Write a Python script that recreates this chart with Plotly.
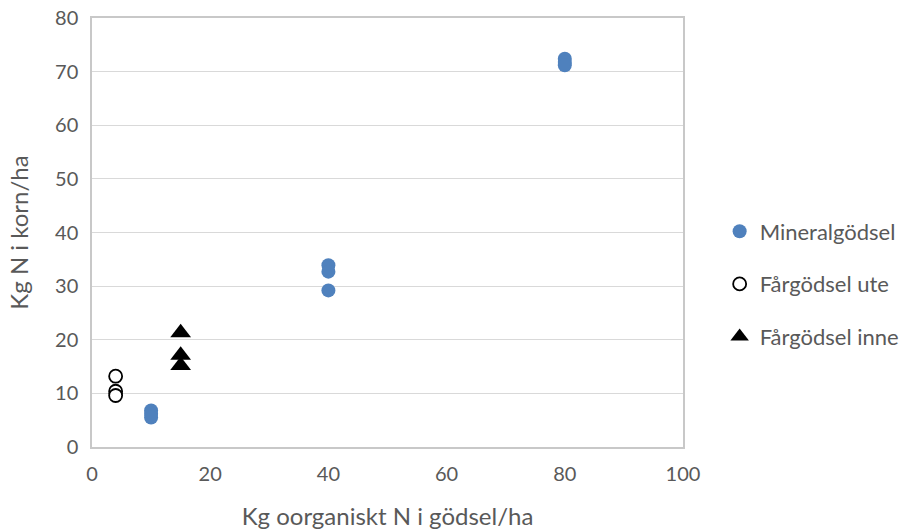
import plotly.graph_objects as go

# Data
min_x = [10, 10, 10, 40, 40, 40, 80, 80, 80]
min_y = [6.8, 6.2, 5.5, 33.9, 32.7, 29.2, 72.4, 71.8, 71.2]
ute_x = [4, 4, 4]
ute_y = [13.2, 10.4, 9.6]
inne_x = [15, 15, 15]
inne_y = [21.3, 17.1, 15.2]

x_ticks = [0, 20, 40, 60, 80, 100]
y_ticks = [0, 10, 20, 30, 40, 50, 60, 70, 80]

FONT = "Lato, Open Sans, sans-serif"
GREY = "#595959"

fig = go.Figure()
fig.add_trace(go.Scatter(x=min_x, y=min_y, mode="markers", name="Mineralgödsel",
                         legendgroup="a",
                         marker=dict(symbol="circle", size=14, color="#4f81bd",
                                     line=dict(width=0))))
fig.add_trace(go.Scatter(x=ute_x, y=ute_y, mode="markers", name="Fårgödsel ute",
                         legendgroup="b",
                         marker=dict(symbol="circle", size=13, color="white",
                                     line=dict(width=1.8, color="black"))))
fig.add_trace(go.Scatter(x=inne_x, y=inne_y, mode="markers", name="Fårgödsel inne",
                         legendgroup="c",
                         marker=dict(symbol="triangle-up", size=18, color="black",
                                     line=dict(width=0))))

fig.update_layout(
    width=907, height=531,
    margin=dict(l=92, r=224, t=18, b=84, autoexpand=False),
    plot_bgcolor="white", paper_bgcolor="white",
    font=dict(family=FONT, color=GREY, size=20),
    showlegend=True,
    legend=dict(x=1.062, y=0.38, xanchor="left", yanchor="middle",
                font=dict(size=22, color=GREY), tracegroupgap=21,
                itemwidth=30, bgcolor="rgba(0,0,0,0)"),
    xaxis=dict(range=[0, 100], tickvals=x_ticks, showgrid=False, zeroline=False,
               showline=True, mirror=True, linecolor="#c8c8c8", linewidth=1.5,
               ticks="", tickfont=dict(size=20, color=GREY), ticklabelstandoff=8,
               title=dict(text="Kg oorganiskt N i gödsel/ha", font=dict(size=24, color=GREY),
                          standoff=24)),
    yaxis=dict(range=[0, 80], tickvals=y_ticks, showgrid=True, gridcolor="#d9d9d9",
               gridwidth=1, zeroline=False, showline=True, mirror=True,
               linecolor="#c8c8c8", linewidth=1.5, ticks="",
               tickfont=dict(size=20, color=GREY), ticklabelstandoff=8,
               title=dict(text="Kg N i korn/ha", font=dict(size=24, color=GREY),
                          standoff=20)),
)

fig.write_html("out.html")
